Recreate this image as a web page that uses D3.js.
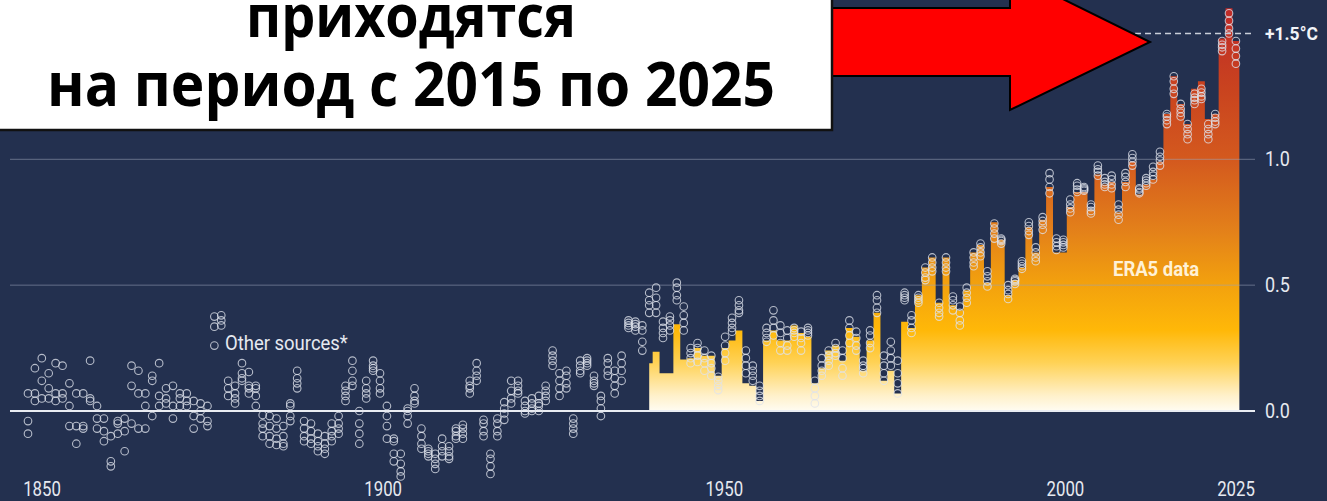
<!DOCTYPE html>
<html><head><meta charset="utf-8">
<script src="https://cdn.jsdelivr.net/npm/d3@7"></script>
<style>
html,body{margin:0;padding:0;background:#23304f;overflow:hidden;}
svg{display:block;}
</style></head><body>
<svg id="chart" width="1327" height="501"></svg>
<script>
// ---------- DATA (anomaly vs 1850-1900, °C) ----------
const firstYear = 1850;
const lastYear = 2025;
// other sources (several datasets, circles), one value per year from 1850
const srcA = [0.07,0.17,0.21,0.15,0.19,0.18,0.11,0.07,0.07,0.20,
  0.02,-0.03,-0.10,-0.04,-0.03,0.18,0.16,0.07,0.14,0.19,
  0.09,0.10,0.07,0.07,0.04,0.03,0.02,0.375,0.38,0.12,
  0.10,0.19,0.155,0.10,-0.016,-0.02,-0.03,-0.06,0.03,0.16,
  -0.04,-0.05,-0.09,-0.10,-0.05,-0.02,0.10,0.20,0.00,0.12,
  0.20,0.15,0.02,-0.11,-0.17,0.01,0.09,-0.07,-0.15,-0.17,
  -0.11,-0.14,-0.07,-0.055,0.12,0.19,-0.035,-0.17,-0.03,0.035,
  0.12,0.12,0.04,0.05,0.06,0.10,0.24,0.15,0.16,-0.03,
  0.20,0.21,0.14,0.06,0.21,0.16,0.22,0.36,0.355,0.34,
  0.47,0.49,0.355,0.375,0.51,0.415,0.25,0.27,0.24,0.22,
  0.136,0.295,0.37,0.44,0.24,0.18,0.10,0.33,0.40,0.34,
  0.32,0.33,0.315,0.33,0.12,0.21,0.24,0.27,0.24,0.36,
  0.315,0.20,0.32,0.46,0.22,0.275,0.20,0.47,0.38,0.46,
  0.57,0.61,0.43,0.61,0.455,0.415,0.49,0.63,0.665,0.555,
  0.745,0.685,0.50,0.525,0.595,0.75,0.65,0.77,0.945,0.685,
  0.68,0.84,0.905,0.89,0.82,0.975,0.925,0.935,0.82,0.945,
  1.02,0.885,0.925,0.97,1.03,1.18,1.33,1.22,1.14,1.26,
  1.28,1.14,1.18,1.47,1.58,1.47];
const srcB = [-0.04,0.07,0.12,0.09,0.07,0.07,0.02,-0.06,-0.06,0.05,
  -0.03,-0.08,-0.20,-0.05,-0.08,0.10,0.07,0.02,0.12,0.06,
  0.05,0.02,0.05,0.04,-0.02,0.00,-0.04,0.335,0.36,0.09,
  0.07,0.15,0.10,0.09,-0.05,-0.06,-0.07,-0.10,0.02,0.13,
  -0.07,-0.08,-0.12,-0.13,-0.08,-0.05,0.08,0.16,-0.05,0.09,
  0.18,0.12,-0.02,-0.12,-0.21,0.00,0.06,-0.10,-0.16,-0.19,
  -0.14,-0.16,-0.08,-0.07,0.10,0.16,-0.05,-0.19,-0.05,0.01,
  0.08,0.10,0.02,0.03,0.03,0.08,0.22,0.12,0.14,-0.05,
  0.18,0.20,0.12,0.04,0.19,0.13,0.19,0.35,0.345,0.32,
  0.44,0.45,0.33,0.36,0.49,0.38,0.23,0.25,0.21,0.19,
  0.12,0.26,0.35,0.42,0.21,0.16,0.08,0.31,0.36,0.31,
  0.29,0.32,0.29,0.32,0.09,0.18,0.22,0.25,0.21,0.33,
  0.29,0.18,0.30,0.44,0.18,0.24,0.15,0.46,0.36,0.45,
  0.55,0.59,0.41,0.59,0.44,0.39,0.47,0.61,0.65,0.535,
  0.725,0.68,0.48,0.52,0.585,0.735,0.63,0.755,0.92,0.67,
  0.67,0.82,0.895,0.885,0.81,0.96,0.91,0.92,0.80,0.93,
  1.005,0.88,0.915,0.95,1.01,1.17,1.31,1.20,1.12,1.245,
  1.265,1.12,1.165,1.455,1.55,1.44];
const srcC = [-0.09,0.04,0.05,0.05,0.04,0.05,-0.06,-0.13,-0.07,0.04,
  -0.07,-0.12,-0.22,-0.09,-0.16,-0.05,-0.07,-0.07,-0.02,0.02,
  0.03,-0.03,0.02,0.02,-0.07,-0.03,-0.06,0.26,0.34,0.06,
  0.05,0.13,0.09,0.06,-0.07,-0.10,-0.11,-0.13,-0.02,0.11,
  -0.10,-0.11,-0.14,-0.15,-0.10,-0.07,0.06,0.12,-0.09,0.07,
  0.17,0.09,-0.06,-0.17,-0.24,-0.02,0.04,-0.13,-0.17,-0.21,
  -0.16,-0.18,-0.10,-0.09,0.09,0.14,-0.08,-0.22,-0.08,-0.01,
  0.05,0.08,0.00,0.01,0.02,0.06,0.20,0.09,0.11,-0.07,
  0.16,0.19,0.11,0.01,0.16,0.10,0.16,0.34,0.335,0.275,
  0.42,0.42,0.31,0.34,0.46,0.35,0.21,0.22,0.19,0.17,
  0.10,0.23,0.33,0.40,0.18,0.14,0.06,0.29,0.33,0.27,
  0.26,0.31,0.27,0.31,0.06,0.16,0.20,0.23,0.17,0.30,
  0.26,0.17,0.27,0.41,0.15,0.21,0.11,0.45,0.33,0.44,
  0.53,0.57,0.39,0.57,0.42,0.36,0.45,0.59,0.63,0.515,
  0.705,0.675,0.465,0.515,0.575,0.715,0.61,0.74,0.89,0.655,
  0.66,0.805,0.88,0.88,0.795,0.95,0.90,0.90,0.78,0.91,
  0.99,0.87,0.905,0.935,0.995,1.155,1.28,1.185,1.10,1.235,
  1.25,1.10,1.15,1.445,1.52,1.41];
const srcD = [null,null,null,null,null,null,null,null,null,null,
  null,null,null,null,null,null,null,null,null,null,
  null,null,null,null,null,null,null,null,null,null,
  0.03,0.12,0.07,0.02,-0.10,-0.13,-0.135,-0.14,-0.04,0.09,
  -0.12,-0.13,-0.16,-0.17,-0.12,-0.09,0.04,0.10,-0.13,0.05,
  0.16,0.07,-0.11,-0.20,-0.26,-0.05,0.03,-0.15,-0.18,-0.23,
  -0.18,-0.19,-0.11,-0.11,0.07,0.12,-0.10,-0.25,-0.10,-0.035,
  0.03,0.07,-0.01,0.00,0.00,0.04,0.18,0.06,0.09,-0.09,
  0.15,0.18,0.10,-0.02,0.14,0.07,0.12,0.33,0.32,0.24,
  0.39,0.39,0.29,0.32,0.44,0.32,0.19,0.195,0.16,0.14,
  0.083,0.20,0.315,0.39,0.15,0.12,0.04,0.275,0.30,0.24,
  0.24,0.295,0.24,0.30,0.03,0.14,0.18,0.22,0.14,0.27,
  0.24,0.15,0.25,0.39,0.12,0.18,0.07,0.44,0.31,0.43,
  0.52,0.555,0.375,0.555,0.40,0.34,0.43,0.575,0.615,0.495,
  0.685,0.665,0.445,0.505,0.565,0.70,0.595,0.72,0.865,0.64,
  0.65,0.79,0.87,0.875,0.785,0.935,0.89,0.885,0.76,0.89,
  0.975,0.865,0.895,0.92,0.975,1.14,1.26,1.17,1.08,1.22,
  1.24,1.08,1.14,1.43,1.50,1.38];
// ERA5 annual anomaly, 1940 onward (bars)
const era5Start = 1940;
const era5 = [0.19,0.235,0.15,0.15,0.345,0.205,0.21,0.25,0.22,0.22,
  0.14,0.25,0.28,0.32,0.11,0.10,0.04,0.28,0.32,0.28,
  0.28,0.34,0.31,0.295,0.11,0.17,0.24,0.26,0.20,0.33,
  0.295,0.16,0.28,0.39,0.12,0.16,0.07,0.355,0.33,0.46,
  0.57,0.61,0.43,0.61,0.42,0.40,0.48,0.63,0.66,0.51,
  0.75,0.68,0.46,0.52,0.57,0.73,0.63,0.76,0.89,0.63,
  0.63,0.81,0.87,0.87,0.80,0.94,0.90,0.91,0.79,0.91,
  0.99,0.86,0.90,0.92,0.99,1.18,1.33,1.22,1.14,1.28,
  1.31,1.16,1.18,1.48,1.60,1.47];
const xTickYears = [1850, 1900, 1950, 2000, 2025];
const yTickValues = [0, 0.5, 1.0];
const thresholdValue = 1.5;
const thresholdLabel = "+1.5°C";
const boxLines = ["приходятся", "на период с 2015 по 2025"];

// ---------- SETUP ----------
const W = 1327, H = 501;
const svg = d3.select("#chart");
const FONT = "Roboto, 'Noto Sans', sans-serif";

const x = d3.scaleLinear().domain([1850, 2024]).range([28, 1229]);
const xLab = d3.scaleLinear().domain([1850, 2025]).range([42, 1236]);
const y = d3.scaleLinear().domain([0, 1]).range([411, 159.3]);
const plotRight = 1255, plotLeft = 10;

svg.append("rect").attr("width", W).attr("height", H).attr("fill", "#23304f");

// gradient for ERA5 area (by value)
const defs = svg.append("defs");
const grad = defs.append("linearGradient").attr("id", "eraGrad")
  .attr("gradientUnits", "userSpaceOnUse")
  .attr("x1", 0).attr("x2", 0).attr("y1", y(0)).attr("y2", y(1.6));
[[0, "#fffcf2"], [0.04, "#fff0c8"], [0.12, "#ffd256"], [0.2, "#ffb808"],
 [0.32, "#f2a00e"], [0.45, "#e3801a"], [0.62, "#d45a1e"], [0.8, "#c9431f"], [1, "#bf2a28"]]
  .forEach(([o, c]) => grad.append("stop").attr("offset", o).attr("stop-color", c));

// ERA5 step area
const eraData = era5.map((v, i) => ({year: era5Start + i, v}));
const eraPts = eraData.map(d => ({xv: d.year - 0.5, v: d.v}));
eraPts.push({xv: eraData[eraData.length - 1].year + 0.5, v: eraData[eraData.length - 1].v});
defs.append("clipPath").attr("id", "eraClip").append("rect")
  .attr("x", x(era5Start)).attr("y", 0).attr("width", W).attr("height", H);
svg.append("path")
  .datum(eraPts)
  .attr("clip-path", "url(#eraClip)")
  .attr("fill", "url(#eraGrad)")
  .attr("d", d3.area().curve(d3.curveStepAfter)
    .x(d => x(d.xv)).y0(y(0)).y1(d => y(d.v)));

// grid lines
svg.append("g").selectAll("line").data(yTickValues.filter(v => v !== 0)).join("line")
  .attr("x1", plotLeft).attr("x2", plotRight)
  .attr("y1", d => y(d)).attr("y2", d => y(d))
  .attr("stroke", "#9aa3b8").attr("stroke-opacity", 0.55).attr("stroke-width", 1);

// zero line
svg.append("line").attr("x1", plotLeft).attr("x2", plotRight)
  .attr("y1", y(0)).attr("y2", y(0))
  .attr("stroke", "#e9ecf2").attr("stroke-width", 2);

// circles for other sources
const series = [srcA, srcB, srcC, srcD];
const pts = [];
series.forEach(s => s.forEach((v, i) => { if (v !== null) pts.push({year: firstYear + i, v}); }));
svg.append("g").selectAll("circle").data(pts).join("circle")
  .attr("cx", d => x(d.year)).attr("cy", d => y(d.v)).attr("r", 3.8)
  .attr("fill", "none").attr("stroke", "#dfe3ec").attr("stroke-opacity", 0.78)
  .attr("stroke-width", 1.1);

// threshold dashed line
svg.append("line").attr("x1", 1135).attr("x2", plotRight)
  .attr("y1", y(thresholdValue)).attr("y2", y(thresholdValue))
  .attr("stroke", "#c9ced9").attr("stroke-width", 1.6).attr("stroke-dasharray", "6,4");
svg.append("text").attr("transform", `translate(1265,${y(thresholdValue)}) scale(0.92,1)`).attr("dy", "0.35em")
  .attr("font-family", FONT).attr("font-weight", 700).attr("font-size", 19)
  .attr("fill", "#f2f4f8").text(thresholdLabel);

// y tick labels
svg.append("g").selectAll("text").data(yTickValues).join("text")
  .attr("transform", d => `translate(1265,${y(d)}) scale(0.9,1)`)
  .attr("dy", "0.35em")
  .attr("font-family", FONT).attr("font-size", 20).attr("fill", "#e6e9f0")
  .text(d => d3.format(".1f")(d));

// x tick labels
svg.append("g").selectAll("text").data(xTickYears).join("text")
  .attr("transform", d => `translate(${xLab(d)},496) scale(0.8,1)`)
  .attr("text-anchor", "middle")
  .attr("font-family", FONT).attr("font-size", 21).attr("fill", "#e6e9f0")
  .text(d => d);

// series labels
svg.append("text").attr("transform", `translate(225,${y(0.27)}) scale(0.88,1)`).attr("dy", "0.35em")
  .attr("font-family", FONT).attr("font-size", 21).attr("fill", "#e6e9f0")
  .text("Other sources*");
svg.append("text").attr("transform", `translate(1113,${y(0.565)}) scale(0.88,1)`).attr("dy", "0.35em")
  .attr("font-family", FONT).attr("font-weight", 700).attr("font-size", 21).attr("fill", "#fff1d6")
  .text("ERA5 data");

// red arrow
svg.append("path")
  .attr("d", "M832,8 L1010,8 L1010,-27 L1150,42 L1010,110 L1010,76 L832,76 Z")
  .attr("fill", "#ff0000").attr("stroke", "#000").attr("stroke-width", 2);

// white text box
svg.append("rect").attr("x", -4).attr("y", -40).attr("width", 836).attr("height", 170)
  .attr("fill", "#ffffff").attr("stroke", "#111").attr("stroke-width", 2.5);
const targets = [{w: 330, base: 37, size: 56}, {w: 728, base: 106, size: 58}];
boxLines.forEach((t, i) => {
  const el = svg.append("text")
    .attr("font-family", "'Open Sans', 'Noto Sans', sans-serif").attr("font-weight", 700)
    .attr("font-size", targets[i].size).attr("fill", "#000").attr("text-anchor", "middle").text(t);
  const len = el.node().getComputedTextLength();
  const sx = targets[i].w / len;
  el.attr("transform", `translate(411,${targets[i].base}) scale(${sx},1.05)`);
});
</script>
</body></html>
